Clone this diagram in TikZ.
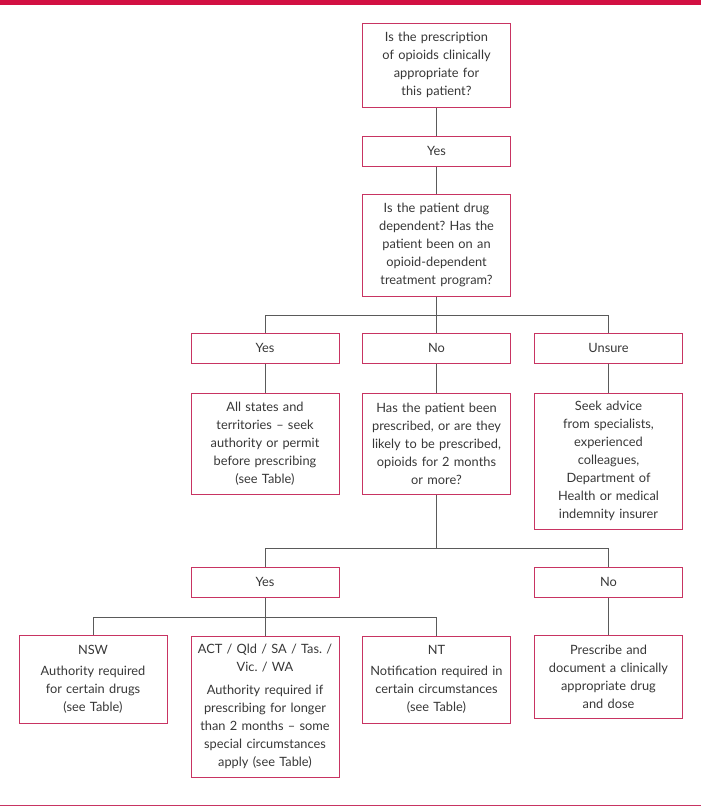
\documentclass[tikz,border=0pt]{standalone}
\usepackage{fontspec}
\setmainfont{Lato}
\definecolor{boxred}{RGB}{200,52,98}
\definecolor{barred}{RGB}{210,16,66}
\definecolor{linegray}{RGB}{90,90,90}
\definecolor{txtgray}{RGB}{55,55,55}
\begin{document}
\frenchspacing
\begin{tikzpicture}[x=1pt,y=-1pt,
  fbox/.style={draw=boxred,line width=1pt,rectangle,minimum width=148pt,
    text width=140pt,align=center,inner sep=0pt,text=txtgray,
    font=\fontsize{12.8}{18}\selectfont},
  conn/.style={draw=linegray,line width=0.8pt}]
\useasboundingbox (0,0) rectangle (701,806);
\fill[barred] (0,0) rectangle (701,5);
\draw[boxred,line width=1pt] (0,805) -- (701,805);

\node[fbox,minimum height=84pt] (q1) at (436.5,65) {Is the prescription\\of opioids clinically\\appropriate for\\this patient?};
\node[fbox,minimum height=30pt] (y1) at (436.5,151) {Yes};
\node[fbox,minimum height=102pt] (q2) at (436.5,245) {Is the patient drug\\dependent? Has the\\patient been on an\\opioid-dependent\\treatment program?};

\node[fbox,minimum height=30pt] (y2) at (265,348) {Yes};
\node[fbox,minimum height=30pt] (n2) at (436.5,348) {No};
\node[fbox,minimum height=30pt] (u2) at (608.5,348) {Unsure};

\node[fbox,minimum height=101pt] (a3) at (265,443.5) {All states and\\territories -- seek\\authority or permit\\before prescribing\\(see Table)};
\node[fbox,minimum height=101pt] (n3) at (436.5,443.5) {Has the patient been\\prescribed, or are they\\likely to be prescribed,\\opioids for 2 months\\or more?};
\node[fbox,minimum height=136pt] (s3) at (608.5,461) {Seek advice\\from specialists,\\experienced\\colleagues,\\Department of\\Health or medical\\indemnity insurer};

\node[fbox,minimum height=30pt] (y4) at (265,582) {Yes};
\node[fbox,minimum height=30pt] (n4) at (608.5,582) {No};

\node[fbox,minimum height=88pt] (nsw) at (93,679) {NSW\\[3pt]Authority required\\for certain drugs\\(see Table)};
\node[fbox,minimum height=141pt] (act) at (265,706.5) {ACT / Qld / SA / Tas. /\\Vic. / WA\\[5pt]Authority required if\\prescribing for longer\\than 2 months -- some\\special circumstances\\apply (see Table)};
\node[fbox,minimum height=87pt] (nt) at (436.5,679.5) {NT\\[3pt]Notification required in\\certain circumstances\\(see Table)};
\node[fbox,minimum height=83pt] (pr) at (608.5,676.5) {Prescribe and\\document a clinically\\appropriate drug\\and dose};

\coordinate (j1) at (436.5,315);
\coordinate (j2) at (436.5,548);
\coordinate (j3) at (265,617);

\draw[conn] (q1.south) -- (y1.north);
\draw[conn] (y1.south) -- (q2.north);
\draw[conn] (q2.south) -- (n2.north);
\draw[conn] (y2.north) -- (y2.north |- j1) -- (u2.north |- j1) -- (u2.north);
\draw[conn] (y2.south) -- (a3.north);
\draw[conn] (n2.south) -- (n3.north);
\draw[conn] (u2.south) -- (s3.north);
\draw[conn] (n3.south) -- (j2);
\draw[conn] (y4.north) -- (y4.north |- j2) -- (n4.north |- j2) -- (n4.north);
\draw[conn] (y4.south) -- (act.north);
\draw[conn] (nsw.north) -- (nsw.north |- j3) -- (nt.north |- j3) -- (nt.north);
\draw[conn] (n4.south) -- (pr.north);
\end{tikzpicture}
\end{document}
